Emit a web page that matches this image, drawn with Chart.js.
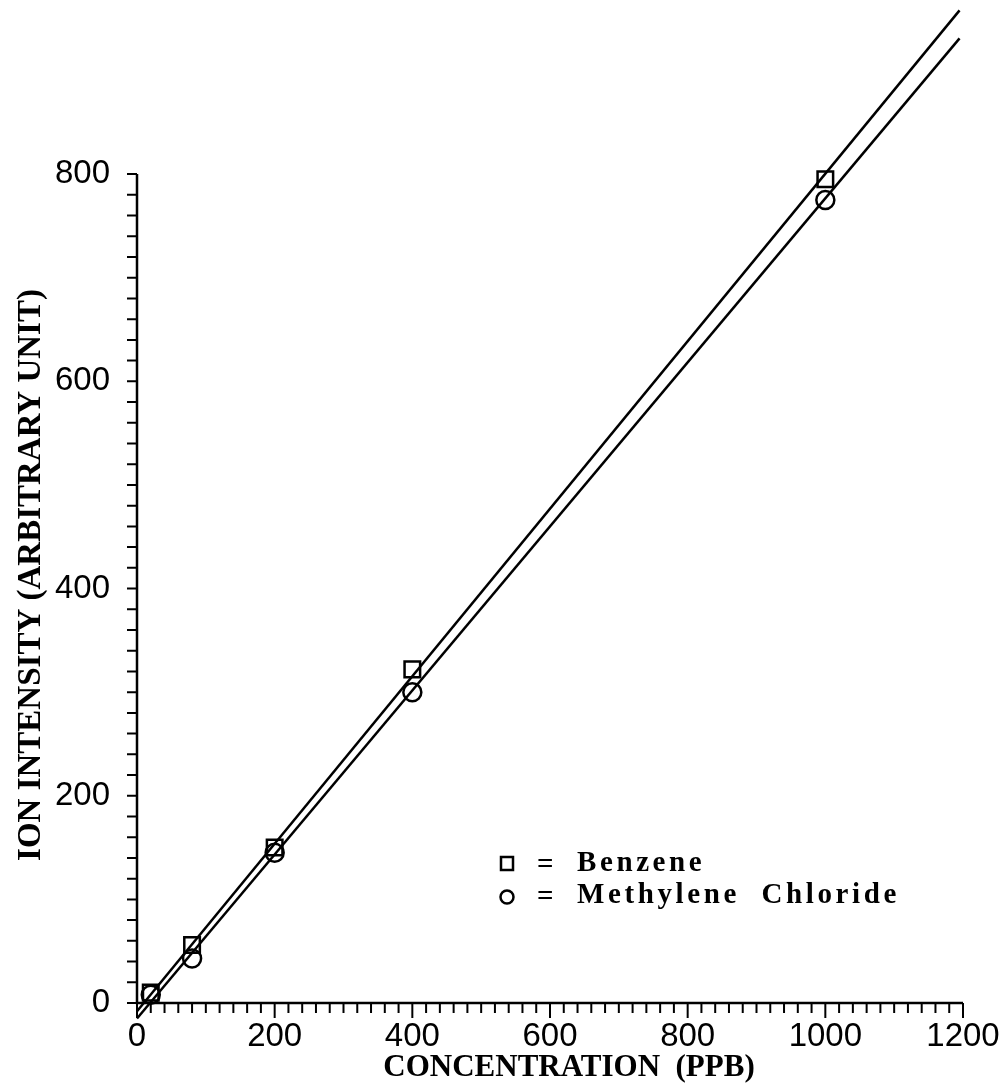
<!DOCTYPE html>
<html>
<head>
<meta charset="utf-8">
<script src="https://cdn.jsdelivr.net/npm/chart.js@4/dist/chart.umd.min.js"></script>
<style>
  html, body { margin: 0; padding: 0; background: #fff; }
  #wrap { width: 1003px; height: 1089px; position: relative; }
</style>
</head>
<body>
<div id="wrap"><canvas id="calibChart"></canvas></div>
<script>
// concentration (ppb) vs ion intensity
const concentrations = [20, 80, 200, 400, 1000];
const benzene = [10, 56, 150, 322, 795];
const methyleneChloride = [8, 43, 145, 300, 775];

// end points of the fitted calibration lines
const benzeneFitX = [0, 1195];
const benzeneFitY = [-8, 958];
const methyleneFitX = [0, 1195];
const methyleneFitY = [-15, 931];

const xTickLabels = [0, 200, 400, 600, 800, 1000, 1200];
const yTickLabels = [0, 200, 400, 600, 800];
const minorStep = 20;

const toPoints = (xs, ys) => xs.map((v, i) => ({ x: v, y: ys[i] }));

// axis lines, ticks, tick labels, titles and the key are drawn here
const axisFrame = {
    id: "axisFrame",
    afterDraw(chart) {
        const { ctx, scales: { x, y } } = chart;
        const xMax = xTickLabels[xTickLabels.length - 1];
        const yMax = yTickLabels[yTickLabels.length - 1];
        const x0 = x.getPixelForValue(0);
        const x1 = x.getPixelForValue(xMax);
        const y0 = y.getPixelForValue(0);
        const yTop = y.getPixelForValue(yMax);

        ctx.save();
        ctx.strokeStyle = "#000";
        ctx.lineWidth = 2.5;
        ctx.beginPath();
        ctx.moveTo(x0, yTop);
        ctx.lineTo(x0, y0);
        ctx.lineTo(x1, y0);
        ctx.stroke();

        ctx.lineWidth = 2;
        ctx.beginPath();
        for (let v = 0; v <= xMax; v += minorStep) {
            const px = x.getPixelForValue(v);
            const len = v % 200 === 0 ? 15 : 10;
            ctx.moveTo(px, y0);
            ctx.lineTo(px, y0 + len);
        }
        for (let v = 0; v <= yMax; v += minorStep) {
            const py = y.getPixelForValue(v);
            ctx.moveTo(x0, py);
            ctx.lineTo(x0 - 10, py);
        }
        ctx.stroke();

        // tick labels
        ctx.fillStyle = "#000";
        ctx.font = "33px 'Liberation Sans'";
        ctx.textBaseline = "middle";
        ctx.textAlign = "center";
        xTickLabels.forEach(v => ctx.fillText(String(v), x.getPixelForValue(v), y0 + 34));
        ctx.textAlign = "right";
        yTickLabels.forEach(v => ctx.fillText(String(v), x0 - 27, y.getPixelForValue(v)));

        // axis titles
        ctx.font = "bold 31px 'Liberation Serif'";
        ctx.textAlign = "center";
        ctx.fillText("CONCENTRATION  (PPB)", 569, 1068);
        ctx.save();
        ctx.font = "bold 33px 'Liberation Serif'";
        ctx.translate(31, 575);
        ctx.rotate(-Math.PI / 2);
        ctx.fillText("ION INTENSITY (ARBITRARY UNIT)", 0, 0);
        ctx.restore();

        // key
        ctx.lineWidth = 2.5;
        ctx.strokeRect(501, 857, 12, 13);
        ctx.beginPath();
        ctx.arc(507, 897, 6.5, 0, Math.PI * 2);
        ctx.stroke();
        ctx.font = "bold 29px 'Liberation Serif'";
        ctx.textAlign = "left";
        ctx.letterSpacing = "3.6px";
        ctx.fillText("=", 537, 866);
        ctx.fillText("=", 537, 898);
        ctx.fillText("Benzene", 577, 864);
        ctx.fillText("Methylene  Chloride", 577, 896);
        ctx.restore();
    }
};

const ctx = document.getElementById("calibChart").getContext("2d");
const calibChart = new Chart(ctx, {
    type: "scatter",
    data: {
        datasets: [
            {
                label: "Benzene",
                data: toPoints(concentrations, benzene),
                pointStyle: "rect",
                pointRadius: 11,
                borderColor: "#000",
                backgroundColor: "rgba(0,0,0,0)",
                borderWidth: 2.5,
                clip: false
            },
            {
                label: "Methylene Chloride",
                data: toPoints(concentrations, methyleneChloride),
                pointStyle: "circle",
                pointRadius: 9,
                borderColor: "#000",
                backgroundColor: "rgba(0,0,0,0)",
                borderWidth: 2.5,
                clip: false
            },
            {
                label: "Benzene fit",
                type: "line",
                data: toPoints(benzeneFitX, benzeneFitY),
                borderColor: "#000",
                borderWidth: 2.5,
                pointRadius: 0,
                clip: false
            },
            {
                label: "Methylene Chloride fit",
                type: "line",
                data: toPoints(methyleneFitX, methyleneFitY),
                borderColor: "#000",
                borderWidth: 2.5,
                pointRadius: 0,
                clip: false
            }
        ]
    },
    options: {
        responsive: true,
        maintainAspectRatio: false,
        animation: false,
        layout: { padding: { left: 0, right: 40, top: 0, bottom: 0 } },
        plugins: {
            legend: { display: false },
            tooltip: { enabled: false }
        },
        scales: {
            x: {
                type: "linear",
                min: 0,
                max: 1200,
                grid: { display: false, drawTicks: false },
                border: { display: false },
                ticks: { display: false },
                afterFit: (scale) => { scale.height = 86; }
            },
            y: {
                type: "linear",
                min: 0,
                // the point markers keep ~13px free above the plot area
                max: 955,
                grid: { display: false, drawTicks: false },
                border: { display: false },
                ticks: { display: false },
                afterFit: (scale) => { scale.width = 137; }
            }
        }
    },
    plugins: [axisFrame]
});
</script>
</body>
</html>
